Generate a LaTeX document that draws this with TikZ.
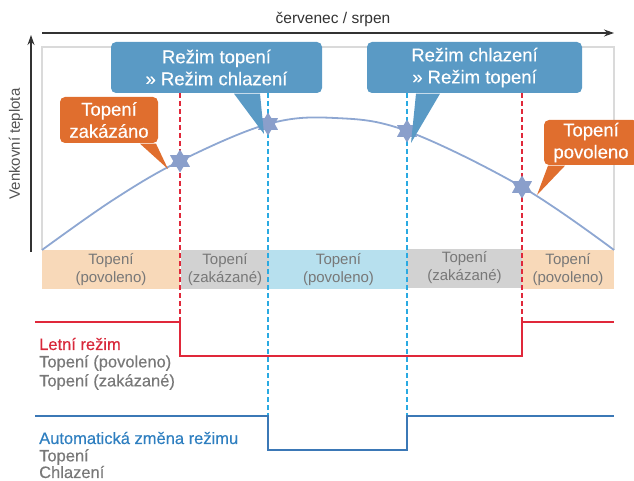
\documentclass[tikz,border=0pt]{standalone}
\usepackage{fontspec}
\setmainfont{Liberation Sans}
\newfontfamily\medfont[FakeBold=0.35]{Liberation Sans}
\usetikzlibrary{shapes.geometric,arrows.meta}
\definecolor{calblue}{HTML}{5A9AC5}
\definecolor{calorange}{HTML}{E06E2E}
\definecolor{bandorange}{HTML}{F8D9B9}
\definecolor{bandgray}{HTML}{D2D2D2}
\definecolor{bandblue}{HTML}{B7E0EE}
\definecolor{redline}{HTML}{E0283A}
\definecolor{cyanline}{HTML}{2AAAE2}
\definecolor{stepblue}{HTML}{3B78B6}
\definecolor{curveblue}{HTML}{8EA7D2}
\definecolor{starblue}{HTML}{8A9FCB}
\definecolor{txtgray}{HTML}{787878}
\definecolor{axisgray}{HTML}{333333}
\definecolor{boxgray}{HTML}{DADADA}
\definecolor{headblue}{HTML}{2F7FC0}
\definecolor{headred}{HTML}{D8283A}
\newcommand\myhexstar[1]{\fill[starblue] (#1) +(90:11.5) -- +(120:6.8) -- +(150:11.5) -- +(180:6.8) -- +(210:11.5) -- +(240:6.8) -- +(270:11.5) -- +(300:6.8) -- +(330:11.5) -- +(0:6.8) -- +(30:11.5) -- +(60:6.8) -- cycle;}
\tikzset{
  callout/.style={rounded corners=5pt, inner sep=0pt, align=center, text=white,
    font=\medfont\fontsize{18.5}{22}\selectfont},
  bandseg/.style={inner sep=0pt, minimum height=39pt, align=center, text=txtgray,
    font=\fontsize{15}{18}\selectfont},
  starmark/.style={circle, minimum size=16pt, inner sep=0pt},
  reddash/.style={redline, line width=1.2pt, dash pattern=on 5pt off 3pt},
  cyandash/.style={cyanline, line width=1.2pt, dash pattern=on 5pt off 3pt},
  axisline/.style={axisgray, line width=1.1pt, -{Stealth[length=10pt,width=7pt]}},
  legend/.style={anchor=west, inner sep=0pt, text=txtgray, font=\medfont\fontsize{16.5}{19}\selectfont},
  redstep/.style={redline, line width=1.8pt},
  bluestep/.style={stepblue, line width=1.8pt},
}
\begin{document}
\begin{tikzpicture}[x=1pt,y=-1pt]
\useasboundingbox (0,0) rectangle (634,481);
% band
\node[bandseg, fill=bandorange, minimum width=138pt] (band1) at (111,269.5) {Topení\\(povoleno)};
\node[bandseg, fill=bandgray, minimum width=88pt] (band2) at (225,269.5) {Topení\\(zakázané)};
\node[bandseg, fill=bandblue, minimum width=139pt] (band3) at (338.5,269.5) {Topení\\(povoleno)};
\node[bandseg, fill=bandgray, minimum width=115pt] (band4) at (464.5,268) {Topení\\(zakázané)};
\node[bandseg, fill=bandorange, minimum width=92pt] (band5) at (568,269.5) {Topení\\(povoleno)};
% plot frame
\draw[boxgray, line width=1.3pt] (42,250) -- (42,47) -- (614,47) -- (614,250);
% axes
\coordinate (xa0) at (42,33);
\coordinate (xa1) at (614,33);
\coordinate (ya0) at (31,252);
\coordinate (ya1) at (31,35);
\draw[axisline] (xa0) -- (xa1);
\draw[axisline] (ya0) -- (ya1);
\node[text=axisgray, font=\fontsize{15.5}{18}\selectfont] (xlab) at (333,19) {červenec / srpen};
\node[text=axisgray!85, rotate=90, font=\fontsize{15}{18}\selectfont] (ylab) at (16,144) {Venkovní teplota};
% step coordinates
\coordinate (r0) at (35,322);
\coordinate (r1) at (180,322);
\coordinate (r2) at (180,356);
\coordinate (r3) at (522,356);
\coordinate (r4) at (522,322);
\coordinate (r5) at (614,322);
\coordinate (b0) at (35,416);
\coordinate (b1) at (268,416);
\coordinate (b2) at (268,450);
\coordinate (b3) at (407,450);
\coordinate (b4) at (407,416);
\coordinate (b5) at (614,416);
\coordinate (t1) at (180,93);
\coordinate (t2) at (268,93);
\coordinate (t3) at (407,93);
\coordinate (t4) at (522,93);
% dashed guides
\draw[reddash] (t1) -- (r1);
\draw[reddash] (t4) -- (r4);
\draw[cyandash] (t2) -- (b1);
\draw[cyandash] (t3) -- (b4);
% curve
\draw[curveblue, line width=1.8pt] plot[smooth, tension=0.6] coordinates
  {(42,250) (113,200) (180,161) (268,124) (335,118) (407,131) (522,187) (614,250)};
% stars
\node[starmark] (s1) at (180,161) {};
\node[starmark] (s2) at (268,124) {};
\node[starmark] (s3) at (407,131) {};
\node[starmark] (s4) at (522,187) {};
\myhexstar{s1}
\myhexstar{s2}
\myhexstar{s3}
\myhexstar{s4}
% callouts
\node[callout, fill=calblue, minimum width=211pt, minimum height=51pt] (c1) at (216.5,67.5) {Režim topení\\» Režim chlazení};
\node[callout, fill=calblue, minimum width=215pt, minimum height=51pt] (c2) at (474.5,67.5) {Režim chlazení\\» Režim topení};
\node[callout, fill=calorange, minimum width=98pt, minimum height=46pt] (o1) at (109,120) {Topení\\zakázáno};
\node[callout, fill=calorange, minimum width=94pt, minimum height=45pt] (o2) at (591,142.5) {Topení\\povoleno};
\fill[calblue] ([xshift=17.5pt,yshift=-0.5pt]c1.south) -- ([shift={(-4pt,-10pt)}]s2.center) -- ([xshift=43.5pt,yshift=-0.5pt]c1.south) -- cycle;
\fill[calblue] ([xshift=-58.5pt,yshift=-0.5pt]c2.south) -- ([shift={(4pt,-12pt)}]s3.center) -- ([xshift=-34.5pt,yshift=-0.5pt]c2.south) -- cycle;
\fill[calorange] ([xshift=31pt,yshift=-0.5pt]o1.south) -- ([shift={(-12pt,-8pt)}]s1.center) -- ([xshift=47pt,yshift=-0.5pt]o1.south) -- cycle;
\fill[calorange] ([xshift=-43pt,yshift=-0.5pt]o2.south) -- ([shift={(15pt,-8pt)}]s4.center) -- ([xshift=-26pt,yshift=-0.5pt]o2.south) -- cycle;
% steps
\draw[redstep] (r0) -- (r1) -- (r2) -- (r3) -- (r4) -- (r5);
\draw[bluestep] (b0) -- (b1) -- (b2) -- (b3) -- (b4) -- (b5);
% legends
\node[legend, text=headred] (l1) at (39,344) {Letní režim};
\node[legend] (l2) at (39,363) {Topení (povoleno)};
\node[legend] (l3) at (39,382) {Topení (zakázané)};
\node[legend, text=headblue] (l4) at (39,438) {Automatická změna režimu};
\node[legend] (l5) at (39,457) {Topení};
\node[legend] (l6) at (39,472) {Chlazení};
\end{tikzpicture}
\end{document}
